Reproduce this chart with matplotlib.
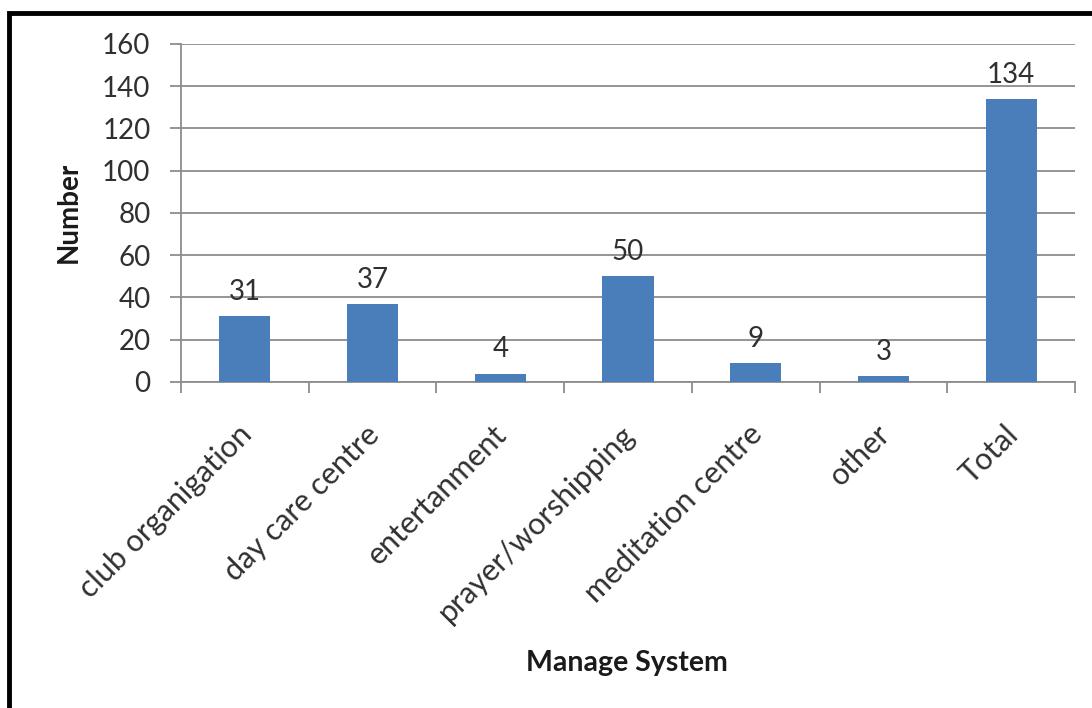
import matplotlib.pyplot as plt
from matplotlib.patches import Rectangle

plt.rcParams['font.family'] = ['Lato', 'DejaVu Sans']

# Datos del gráfico
categorias = ["club organigation", "day care centre", "entertanment", "prayer/worshipping",
              "meditation centre", "other", "Total"]
valores = [31, 37, 4, 50, 9, 3, 134]
ticks_y = [0, 20, 40, 60, 80, 100, 120, 140, 160]

color_barra = "#4a7ebb"
color_texto = "#303030"
fs = 20

fig = plt.figure(figsize=(10.92, 7.08), dpi=100)
ax = fig.add_axes([0.1658, 0.4605, 0.8186, 0.4774])

x = range(len(categorias))
ax.bar(x, valores, width=0.4, color=color_barra, zorder=3)

# Etiquetas de valor sobre cada barra
for xi, v in zip(x, valores):
    ax.annotate(str(v), (xi, v), xytext=(0, 8), textcoords="offset points",
                ha="center", va="bottom", fontsize=fs, color=color_texto)

ax.set_xlim(-0.5, len(categorias) - 0.5)
ax.set_ylim(0, 160)
ax.set_yticks(ticks_y)
ax.set_yticklabels([str(t) for t in ticks_y], fontsize=fs, color=color_texto)
ax.yaxis.grid(True, color="#8c8c8c", linewidth=1.3, zorder=0)
ax.set_axisbelow(True)

# Marcas del eje x entre categorías
ax.set_xticks([i + 0.5 for i in range(-1, len(categorias))])
ax.set_xticklabels([])
ax.tick_params(axis="x", length=8, color="#8c8c8c", width=1.3, direction="out")
ax.tick_params(axis="y", length=8, color="#8c8c8c", width=1.3, pad=14)

for xi, cat in zip(x, categorias):
    ax.text(xi - 0.06, -18, cat, rotation=45, rotation_mode="anchor",
            ha="right", va="top", fontsize=22, color=color_texto,
            transform=ax.transData)

for s in ["top", "right"]:
    ax.spines[s].set_visible(False)
ax.spines["left"].set_color("#8c8c8c")
ax.spines["bottom"].set_color("#8c8c8c")
ax.spines["left"].set_linewidth(1.3)
ax.spines["bottom"].set_linewidth(1.3)

fig.text(0.063, 0.6995, "Number", rotation=90, ha="center", va="center",
         fontsize=fs, fontweight="bold", color="#1a1a1a")
fig.text(0.5742, 0.0635, "Manage System", ha="center", va="center",
         fontsize=20.5, fontweight="bold", color="#1a1a1a")

# Marco exterior
fig.patches.append(Rectangle((9 / 1092, -0.05), 1.2, 1 - 13 / 708 + 0.05,
                             transform=fig.transFigure, fill=False,
                             edgecolor="black", linewidth=3.5))

fig.savefig("out.png", dpi=100)
